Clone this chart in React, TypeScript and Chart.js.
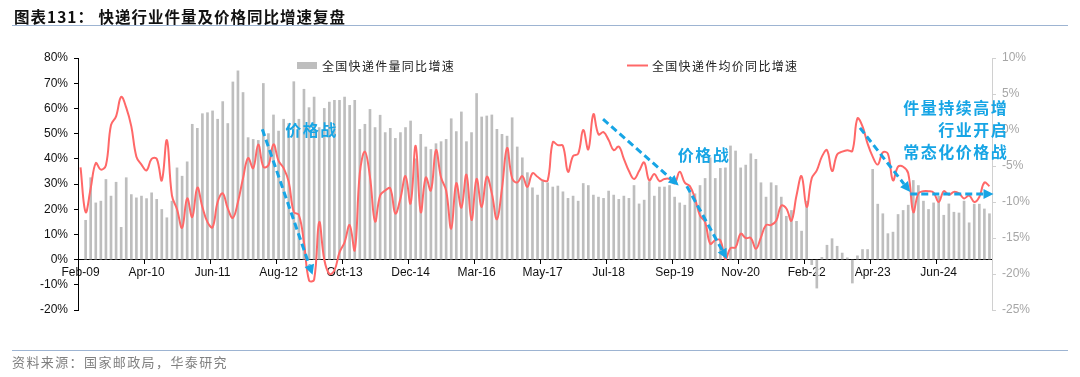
import React, { useEffect, useRef } from 'react';
import { Chart, registerables } from 'chart.js';

Chart.register(...registerables);

// Monthly data, Jan & Feb combined (reported as "Feb") each year
const years = [2009, 2010, 2011, 2012, 2013, 2014, 2015, 2016, 2017, 2018, 2019, 2020, 2021, 2022, 2023, 2024, 2025];
const monthNames = ['Feb', 'Mar', 'Apr', 'May', 'Jun', 'Jul', 'Aug', 'Sep', 'Oct', 'Nov', 'Dec'];
const lastYearMonths = 4; // Feb..May 2025

const categories: string[] = [];
years.forEach((yr, yi) => {
  const n = yi === years.length - 1 ? lastYearMonths : monthNames.length;
  for (let m = 0; m < n; m++) categories.push(`${monthNames[m]}-${String(yr).slice(2)}`);
});

// 全国快递件量同比增速 (%), left axis
const volumeYoY: (number | null)[] = [
  null, 15.6, 32.5, 22.5, 23.2, 31.8, 25.2, 30.7, 12.8, 32.5,
  25.8, 24.5, 25.2, 24.2, 26.5, 23.9, 19.9, 16.6, 23.2, 36.4,
  33.1, 38.8, 53.7, 52.1, 57.9, 58.3, 59.0, 55.7, 62.7, 54.0,
  70.5, 74.9, 66.3, 48.4, 47.7, 47.3, 69.9, 50.0, 57.4, 51.0,
  55.7, 54.0, 70.6, 55.7, 67.6, 60.3, 64.5, 52.4, 60.0, 62.5,
  63.2, 63.2, 64.5, 61.2, 63.2, 51.7, 53.7, 59.6, 52.4, 57.3,
  50.4, 52.1, 48.1, 50.4, 52.4, 55.0, 40.0, 49.7, 44.7, 43.7,
  46.0, 46.8, 47.7, 55.9, 50.8, 58.6, 46.8, 50.4, 65.9, 56.6,
  57.0, 57.4, 51.7, 49.7, 49.0, 56.3, 44.7, 40.4, 34.5, 28.5,
  25.6, 31.1, 30.5, 28.8, 29.2, 26.9, 24.3, 25.2, 23.2, 30.2,
  29.4, 25.6, 24.8, 24.3, 27.2, 25.6, 23.9, 25.2, 24.3, 29.4,
  22.1, 23.6, 30.9, 25.2, 28.8, 28.8, 29.4, 24.8, 22.5, 21.6,
  26.9, 26.1, 29.4, 32.2, 40.4, 32.2, 36.2, 36.4, 45.1, 43.1,
  36.4, 37.5, 42.0, 39.8, 30.5, 24.8, 30.5, 29.4, 24.8, 17.2,
  19.5, 15.2, 11.3, 23.2, -2.0, -11.3, 0.9, 5.7, 8.3, 5.3,
  2.6, 0.7, -9.3, 1.5, 4.0, 4.0, 35.8, 22.0, 18.2, 10.3,
  10.9, 17.9, 19.5, 21.6, 31.4, 29.4, 23.2, 19.9, 22.5, 25.2,
  17.6, 22.1, 18.8, 18.5, 23.2, 14.6, 22.0, 22.0, 20.1, 18.2,
];

// 全国快递件均价同比增速 (%), right axis
const priceYoY: number[] = [
  -5.2, -11.4, -8.1, -4.6, -5.5, -4.9, 0.7, 1.9, 4.6, 3.1,
  0.5, -3.7, -4.8, -5.6, -4.0, -4.0, -7.0, -1.4, -9.1, -11.0,
  -13.6, -9.5, -12.1, -8.0, -10.7, -12.8, -13.5, -10.0, -8.8, -10.9,
  -12.2, -10.0, -6.7, -3.9, -5.3, -2.0, -5.1, -4.9, -2.0, -4.3,
  -5.3, -7.2, -11.4, -11.8, -15.6, -20.9, -20.8, -12.8, -18.0, -20.0,
  -19.5, -17.0, -15.6, -13.2, -16.7, -6.0, -3.0, -6.5, -12.7, -9.1,
  -8.4, -8.1, -11.6, -9.5, -6.4, -10.2, -2.2, -11.4, -6.6, -8.4,
  -2.8, -6.6, -8.4, -13.7, -7.4, -10.8, -6.2, -12.5, -6.8, -10.7,
  -6.5, -8.8, -12.4, -8.1, -2.5, -6.7, -7.3, -6.4, -7.9, -6.0,
  -6.5, -7.0, -7.0, -1.7, -2.1, -2.2, -5.8, -3.6, -3.3, 0.0,
  -2.7, 2.2, -0.6, -0.3, -1.4, -2.8, -2.3, -4.0, -5.7, -6.8,
  -5.7, -4.5, -7.0, -6.1, -7.1, -6.8, -6.8, -7.4, -5.8, -7.3,
  -7.8, -9.5, -11.9, -12.8, -15.8, -15.3, -15.3, -17.9, -16.4, -16.3,
  -14.4, -15.0, -15.0, -16.5, -14.9, -13.2, -13.2, -12.6, -10.5, -10.9,
  -12.6, -9.1, -6.4, -10.7, -6.7, -5.6, -3.7, -2.8, -5.7, -3.4,
  -3.0, -2.8, -2.9, 1.6, 0.5, -1.9, -3.7, -4.8, -3.1, -3.3,
  -7.0, -5.1, -5.1, -6.0, -11.4, -8.8, -8.5, -8.5, -8.7, -10.0,
  -8.5, -9.0, -8.6, -8.8, -9.5, -9.1, -10.0, -9.3, -7.3, -7.8,
];

const labelEvery = 13;
const leftTicks = { min: -20, max: 80, step: 10 };
const rightTicks = { min: -25, max: 10, step: 5 };

const seriesNames = ['全国快递件量同比增速', '全国快递件均价同比增速'];

// annotations in data coordinates: [category index, right-axis value]
const arrows: { from: [number, number]; to: [number, number] }[] = [
  { from: [35.8, 0.1], to: [45.7, -20.1] },
  { from: [102.9, 1.5], to: [117.8, -7.7] },
  { from: [119.4, -7.8], to: [127.3, -17.9] },
  { from: [153.5, 0.3], to: [163.4, -8.6] },
  { from: [163.4, -8.9], to: [179.8, -8.9] },
];
const notes: { text: string; at: [number, number]; align: CanvasTextAlign }[] = [
  { text: '价格战', at: [45.5, 0.0], align: 'center' },
  { text: '价格战', at: [122.8, -3.5], align: 'center' },
  { text: '件量持续高增', at: [182.7, 3.1], align: 'right' },
  { text: '行业开启', at: [182.7, 0.0], align: 'right' },
  { text: '常态化价格战', at: [182.7, -3.1], align: 'right' },
];

const BAR = '#BEBEBE';
const LINE = '#FF6868';
const BLUE = '#17A5E5';
const CJK = '"Noto Sans CJK SC", "Noto Sans", sans-serif';
const LAT = '"Liberation Sans", Arial, sans-serif';

const overlayPlugin = {
  id: 'overlay',
  afterDraw(chart: any) {
    const { ctx, scales } = chart;
    const x = scales.x;
    const y1 = scales.y1;
    const x0 = x.getPixelForValue(0);
    const dx = x.getPixelForValue(1) - x0;
    const px = (i: number) => x0 + i * dx;

    // legend
    ctx.save();
    ctx.fillStyle = BAR;
    ctx.fillRect(297, 62, 20, 7);
    ctx.strokeStyle = LINE;
    ctx.lineWidth = 2;
    ctx.beginPath();
    ctx.moveTo(627, 65.5);
    ctx.lineTo(648, 65.5);
    ctx.stroke();
    ctx.fillStyle = '#222';
    ctx.font = `12px ${CJK}`;
    (ctx as any).letterSpacing = '1.3px';
    ctx.textBaseline = 'middle';
    ctx.textAlign = 'left';
    ctx.fillText(seriesNames[0], 322, 66);
    ctx.fillText(seriesNames[1], 652, 66);
    ctx.restore();

    // arrows
    ctx.save();
    ctx.strokeStyle = BLUE;
    ctx.fillStyle = BLUE;
    ctx.lineWidth = 3;
    arrows.forEach((a) => {
      const sx = px(a.from[0]);
      const sy = y1.getPixelForValue(a.from[1]);
      const ex = px(a.to[0]);
      const ey = y1.getPixelForValue(a.to[1]);
      const ang = Math.atan2(ey - sy, ex - sx);
      const head = 10;
      const bx = ex - head * Math.cos(ang);
      const by = ey - head * Math.sin(ang);
      ctx.setLineDash([7, 4]);
      ctx.beginPath();
      ctx.moveTo(sx, sy);
      ctx.lineTo(bx, by);
      ctx.stroke();
      ctx.setLineDash([]);
      ctx.beginPath();
      ctx.moveTo(ex, ey);
      ctx.lineTo(bx + 5 * Math.cos(ang + Math.PI / 2), by + 5 * Math.sin(ang + Math.PI / 2));
      ctx.lineTo(bx + 5 * Math.cos(ang - Math.PI / 2), by + 5 * Math.sin(ang - Math.PI / 2));
      ctx.closePath();
      ctx.fill();
    });
    ctx.restore();

    // notes
    ctx.save();
    ctx.fillStyle = BLUE;
    ctx.font = `bold 16px ${CJK}`;
    (ctx as any).letterSpacing = '1.5px';
    ctx.textBaseline = 'middle';
    notes.forEach((n) => {
      ctx.textAlign = n.align;
      ctx.fillText(n.text, px(n.at[0]), y1.getPixelForValue(n.at[1]));
    });
    ctx.restore();
  },
};

export default function App() {
  const ref = useRef<HTMLCanvasElement | null>(null);

  useEffect(() => {
    if (!ref.current) return;
    const chart = new Chart(ref.current, {
      type: 'bar',
      data: {
        labels: categories,
        datasets: [
          {
            type: 'line',
            label: seriesNames[1],
            data: priceYoY,
            yAxisID: 'y1',
            borderColor: LINE,
            borderWidth: 2,
            pointRadius: 0,
            tension: 0.4,
            order: 0,
          } as any,
          {
            type: 'bar',
            label: seriesNames[0],
            data: volumeYoY,
            yAxisID: 'y',
            backgroundColor: BAR,
            barThickness: 2,
            order: 1,
          },
        ],
      },
      options: {
        responsive: false,
        animation: false,
        layout: { padding: { left: 18, right: 38, top: 58, bottom: 67 } },
        plugins: {
          legend: { display: false },
          tooltip: { enabled: false },
        },
        scales: {
          x: {
            type: 'category',
            position: { y: 0 } as any,
            offset: true,
            grid: {
              offset: true,
              drawOnChartArea: false,
              drawTicks: true,
              tickLength: 4,
              color: (c: any) => (c.index % labelEvery === 0 ? '#000' : 'rgba(0,0,0,0)'),
            },
            border: { color: '#000', width: 1 },
            ticks: {
              autoSkip: false,
              maxRotation: 0,
              minRotation: 0,
              padding: 2,
              color: '#111',
              font: { family: LAT, size: 12 },
              callback: (_v: any, i: number) => (i % labelEvery === 0 ? categories[i] : ''),
            },
          },
          y: {
            position: 'left',
            min: leftTicks.min,
            max: leftTicks.max,
            ticks: {
              stepSize: leftTicks.step,
              padding: 6,
              color: '#111',
              font: { family: LAT, size: 12 },
              callback: (v: any) => `${v}%`,
            },
            grid: { drawOnChartArea: false, drawTicks: true, tickLength: 4, color: '#000' },
            border: { color: '#000', width: 1 },
            afterFit: (s: any) => {
              s.width = 60;
            },
          },
          y1: {
            position: 'right',
            min: rightTicks.min,
            max: rightTicks.max,
            ticks: {
              stepSize: rightTicks.step,
              padding: 6,
              color: '#A6A6A6',
              font: { family: LAT, size: 12 },
              callback: (v: any) => `${v}%`,
            },
            grid: { drawOnChartArea: false, drawTicks: true, tickLength: 4, color: '#D0D0D0' },
            border: { color: '#D0D0D0', width: 1 },
            afterFit: (s: any) => {
              s.width = 50;
            },
          },
        },
      },
      plugins: [overlayPlugin],
    });
    return () => chart.destroy();
  }, []);

  return (
    <div style={{ position: 'fixed', left: 0, top: 0, width: 1080, height: 377, background: '#fff', overflow: 'hidden' }}>
      <canvas ref={ref} width={1080} height={377} style={{ position: 'absolute', left: 0, top: 0, width: 1080, height: 377 }} />
      <div
        style={{
          position: 'absolute',
          left: 14,
          top: 6,
          lineHeight: '20px',
          fontSize: 15.5,
          fontWeight: 700,
          letterSpacing: '1px',
          fontFamily: CJK,
          color: '#111',
          whiteSpace: 'nowrap',
        }}
      >
        图表131： 快递行业件量及价格同比增速复盘
      </div>
      <div style={{ position: 'absolute', left: 12, width: 1056, top: 25, height: 1, background: '#9DB4D2' }} />
      <div style={{ position: 'absolute', left: 12, width: 1056, top: 350, height: 1, background: '#9DB4D2' }} />
      <div
        style={{
          position: 'absolute',
          left: 12,
          top: 354,
          lineHeight: '16px',
          fontSize: 13,
          letterSpacing: '1.4px',
          fontFamily: CJK,
          color: '#808080',
          whiteSpace: 'nowrap',
        }}
      >
        资料来源：国家邮政局，华泰研究
      </div>
    </div>
  );
}
